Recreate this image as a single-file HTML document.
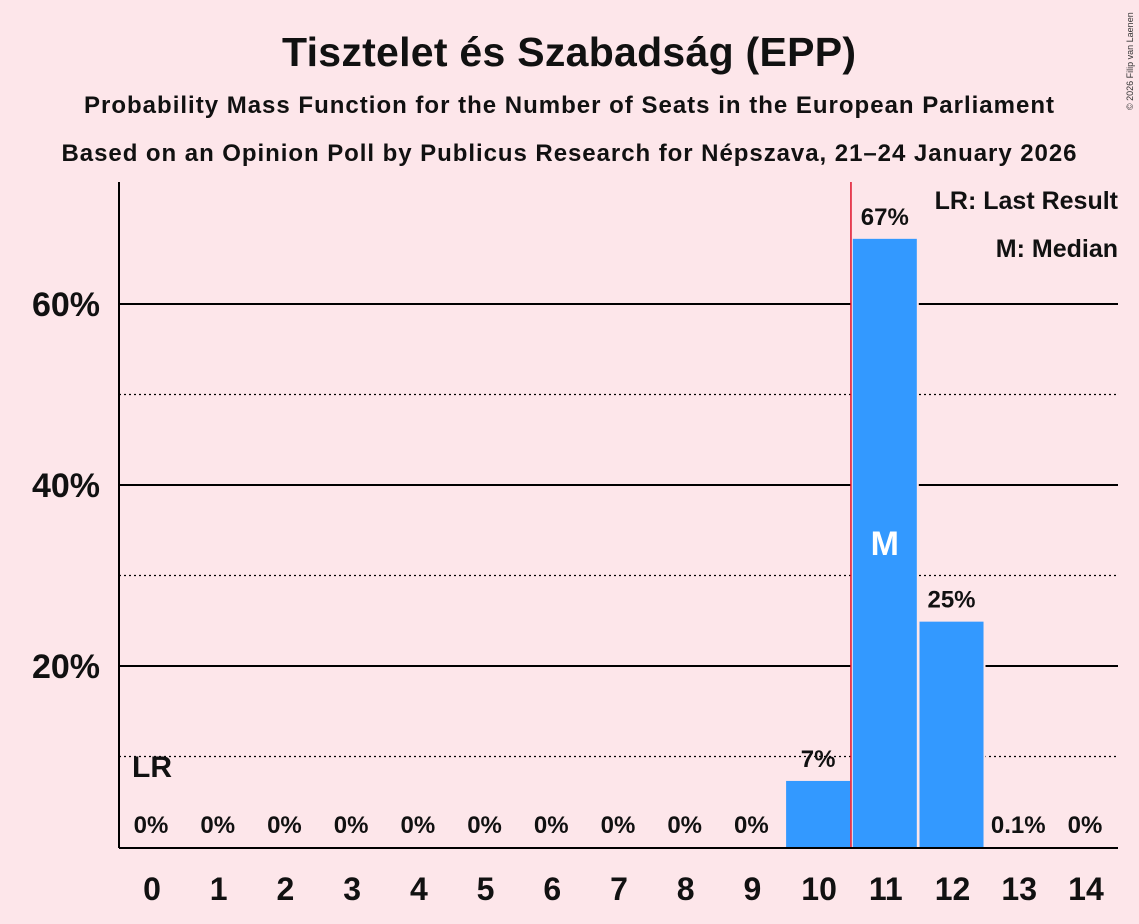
<!DOCTYPE html>
<html><head><meta charset="utf-8"><style>
body{margin:0;background:#fde6ea;}
svg{display:block;font-family:"Liberation Sans",sans-serif;}
</style></head><body>
<svg id="c" width="1139" height="924">
<rect width="1139" height="924" fill="#fde6ea"/>
<text x="569" y="66" text-anchor="middle" font-size="41" font-weight="bold" fill="#111" textLength="574">Tisztelet és Szabadság (EPP)</text>
<text x="569" y="113" text-anchor="middle" font-size="24" font-weight="bold" fill="#111" textLength="970">Probability Mass Function for the Number of Seats in the European Parliament</text>
<text x="569" y="161" text-anchor="middle" font-size="24" font-weight="bold" fill="#111" textLength="1015">Based on an Opinion Poll by Publicus Research for Népszava, 21–24 January 2026</text>
<text x="1133" y="110" font-size="9" fill="#333" transform="rotate(-90 1133 110)">© 2026 Filip van Laenen</text>
<g id="grid"></g>
<g id="bars"></g>
<line x1="119" y1="182" x2="119" y2="848" stroke="#000" stroke-width="2"/>
<line x1="119" y1="848" x2="1118" y2="848" stroke="#000" stroke-width="2"/>
<text x="1118" y="209" text-anchor="end" font-size="25" font-weight="bold" fill="#111">LR: Last Result</text>
<text x="1118" y="257" text-anchor="end" font-size="25" font-weight="bold" fill="#111">M: Median</text>
</svg>
<script>
const seats=[0,1,2,3,4,5,6,7,8,9,10,11,12,13,14];
const probs=[0,0,0,0,0,0,0,0,0,0,7.3,67.2,24.9,0.1,0];
const labels=["0%","0%","0%","0%","0%","0%","0%","0%","0%","0%","7%","67%","25%","0.1%","0%"];
const yTicks=[20,40,60];
const yMinor=[10,30,50];
const lastResult=0, median=11, redLine=10.5;
const NS="http://www.w3.org/2000/svg";
const x=i=>152+i*66.71;
const y=v=>847-v*9.05;
function mk(t,a,p){const e=document.createElementNS(NS,t);for(const k in a)e.setAttribute(k,a[k]);p.appendChild(e);return e;}
const g=document.getElementById('grid'), b=document.getElementById('bars');
yMinor.forEach(v=>{const l=mk('line',{x1:119,x2:1118,y1:y(v),y2:y(v),stroke:'#000','stroke-width':1.2,'stroke-dasharray':'2,3'},g);

});
yTicks.forEach(v=>{const l=mk('line',{x1:119,x2:1118,y1:y(v),y2:y(v),stroke:'#000','stroke-width':2},g);


const t=mk('text',{x:100,y:y(v)+12,'text-anchor':'end','font-size':34,'font-weight':'bold',fill:'#111'},g);t.textContent=v+'%';

});
seats.forEach((s,i)=>{
 const p=probs[i];
 const cx=x(s)-1;
 if(p>0.5){const r=mk('rect',{x:cx-34,y:y(p)-2,width:68,height:847-y(p)+2,fill:'#fde6ea'},b);
 
 
 const bar=mk('rect',{x:cx-32,y:y(p),width:64,height:847-y(p),fill:'#3399ff'},b);
 
 }
 const ly=p>0.5?y(p)-14:833;
 const t=mk('text',{x:cx,y:ly,'text-anchor':'middle','font-size':24,'font-weight':'bold',fill:'#111'},b);t.textContent=labels[i];
 
 
 const xl=mk('text',{x:x(s),y:900,'text-anchor':'middle','font-size':32,'font-weight':'bold',fill:'#111'},b);xl.textContent=s;
 
 
});
const rl=mk('line',{x1:x(redLine)-1.5,x2:x(redLine)-1.5,y1:182,y2:847,stroke:'#e0102a','stroke-width':1.5},b);


const lr=mk('text',{x:x(lastResult),y:777,'text-anchor':'middle','font-size':30,'font-weight':'bold',fill:'#111'},b);lr.textContent='LR';


const m=mk('text',{x:x(median)-1,y:y(probs[median]/2)+12,'text-anchor':'middle','font-size':34,'font-weight':'bold',fill:'#fff'},b);m.textContent='M';


</script>
</body></html>
